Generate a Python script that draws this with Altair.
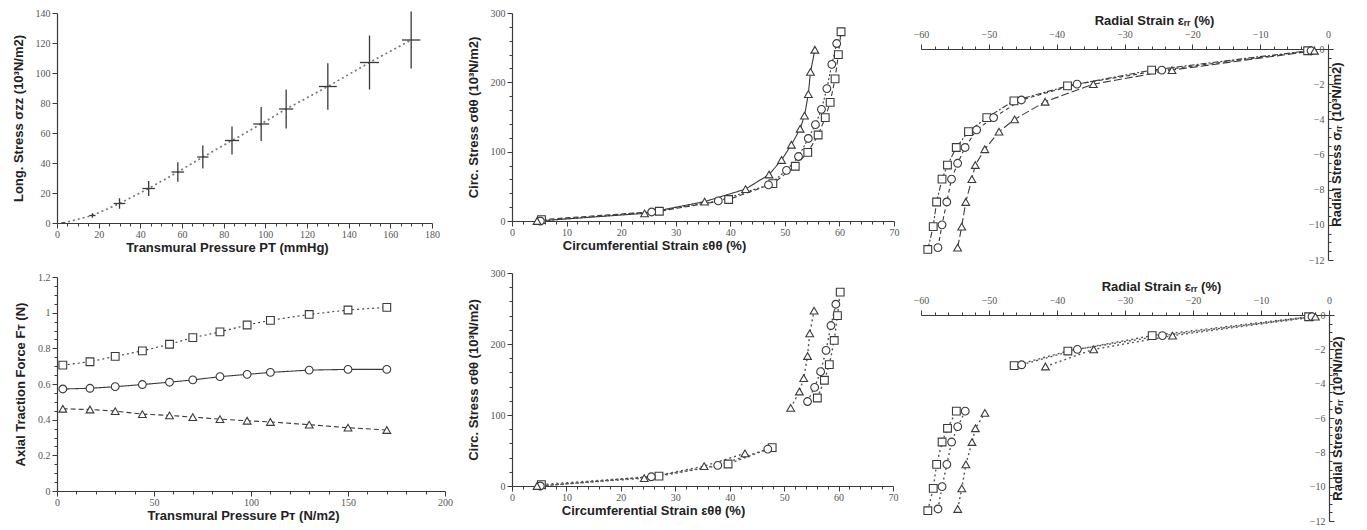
import altair as alt
import pandas as pd

# ---------------- data ----------------
series_names = ["square", "circle", "triangle"]

# Panel 1 / 4 : transmural pressure
pressure = [3, 17, 30, 44, 58, 70, 84, 98, 110, 130, 150, 170]
pressure_err = [1.0, 1.5, 2.8, 3.0, 3.0, 2.7, 3.4, 3.8, 3.4, 4.3, 4.6, 4.4]
long_stress = [0, 5, 13, 23, 34, 44, 55, 66, 76, 91, 107, 122]
long_stress_err = [0.5, 1.5, 3.5, 5.0, 6.5, 7.7, 9.4, 11.4, 13.0, 15.5, 18.0, 19.0]

force_square = [0.706, 0.725, 0.755, 0.786, 0.823, 0.860, 0.892, 0.931, 0.957, 0.990, 1.015, 1.030]
force_circle = [0.572, 0.576, 0.585, 0.597, 0.610, 0.623, 0.641, 0.654, 0.665, 0.678, 0.682, 0.682]
force_triangle = [0.461, 0.457, 0.448, 0.431, 0.424, 0.414, 0.403, 0.394, 0.387, 0.372, 0.355, 0.342]

# Panel 2 / 5 : circumferential strain (%) and stress (10^3 N/m2)
circ_strain_square = [5.4, 27.0, 39.7, 47.8, 51.9, 54.2, 56.1, 57.4, 58.3, 59.2, 59.8, 60.3]
circ_stress_square = [2, 14, 31, 54, 79, 99, 124, 149, 171, 205, 240, 273]
circ_strain_circle = [5.2, 25.6, 37.8, 47.0, 50.3, 52.5, 54.3, 55.6, 56.7, 57.7, 58.6, 59.5]
circ_stress_circle = [0, 13, 29, 52, 73, 93, 119, 139, 161, 191, 226, 256]
circ_strain_triangle = [4.6, 24.3, 35.3, 42.8, 47.1, 49.4, 51.2, 52.8, 53.6, 54.3, 54.7, 55.5]
circ_stress_triangle = [0, 11, 28, 46, 67, 88, 110, 133, 152, 183, 215, 247]

# Panel 3 / 6 : radial strain (%) and stress (10^3 N/m2)
rad_strain_square = [-3.0, -26.0, -38.4, -46.3, -50.3, -53.0, -54.8, -56.1, -56.9, -57.7, -58.2, -59.0]
rad_stress_square = [-0.1, -1.2, -2.1, -2.95, -3.9, -4.7, -5.6, -6.6, -7.4, -8.7, -10.1, -11.4]
rad_strain_circle = [-2.5, -24.5, -37.0, -45.2, -49.3, -51.8, -53.5, -54.6, -55.5, -56.2, -56.9, -57.5]
rad_stress_circle = [-0.1, -1.2, -2.0, -2.9, -3.9, -4.6, -5.6, -6.5, -7.4, -8.7, -10.0, -11.3]
rad_strain_triangle = [-2.0, -23.0, -34.6, -41.7, -46.2, -48.5, -50.6, -52.0, -52.5, -53.4, -54.0, -54.6]
rad_stress_triangle = [-0.1, -1.2, -2.0, -3.0, -4.0, -4.7, -5.7, -6.6, -7.4, -8.7, -10.1, -11.3]

# subsets shown in the bottom panels (low-load points and high-load points)
low_idx = [0, 1, 2, 3]
high_idx = [6, 7, 8, 9, 10, 11]

# ---------------- tables ----------------
def series_table(xs, ys, idx=None, tag=""):
    rows = []
    for name, xv, yv in zip(series_names, xs, ys):
        ids = idx if idx is not None else range(len(xv))
        for i in ids:
            rows.append({"series": name, "seg": name + tag, "x": xv[i], "y": yv[i]})
    return pd.DataFrame(rows)

df1 = pd.DataFrame({
    "x": pressure, "y": long_stress,
    "xlo": [p - e for p, e in zip(pressure, pressure_err)],
    "xhi": [p + e for p, e in zip(pressure, pressure_err)],
    "ylo": [s - e for s, e in zip(long_stress, long_stress_err)],
    "yhi": [s + e for s, e in zip(long_stress, long_stress_err)],
})
circ_x = [circ_strain_square, circ_strain_circle, circ_strain_triangle]
circ_y = [circ_stress_square, circ_stress_circle, circ_stress_triangle]
rad_x = [rad_strain_square, rad_strain_circle, rad_strain_triangle]
rad_y = [rad_stress_square, rad_stress_circle, rad_stress_triangle]

df2 = series_table(circ_x, circ_y)
df3 = series_table(rad_x, rad_y)
df4 = series_table([pressure, pressure, pressure], [force_square, force_circle, force_triangle])
df5 = pd.concat([series_table(circ_x, circ_y, low_idx, "_lo"), series_table(circ_x, circ_y, high_idx, "_hi")])
df6 = pd.concat([series_table(rad_x, rad_y, low_idx, "_lo"), series_table(rad_x, rad_y, high_idx, "_hi")])

# ---------------- styling helpers ----------------
INK = "#3a3a3a"
TITLE_FONT = "Liberation Sans"
LABEL_FONT = "Liberation Serif"


def mk_axis(title, major, minor, lo, hi, orient, **kw):
    n = int(round((hi - lo) / minor))
    vals = [round(lo + i * minor, 6) for i in range(n + 1)]
    test = f"abs(datum.value/{major} - round(datum.value/{major})) < 1e-6"
    opts = dict(
        title=title, orient=orient, values=vals, grid=False,
        labelExpr=f"{test} ? format(datum.value, '~g') : ''",
        tickSize={"condition": {"test": test, "value": 5}, "value": 3},
        labelOverlap=False, labelFlush=False, labelBound=False,
        domainColor=INK, tickColor=INK, domainWidth=1.2, tickWidth=1,
        labelColor="#555", labelFont=LABEL_FONT, labelFontSize=10,
        titleFont=TITLE_FONT, titleFontSize=13, titleFontWeight="bold", titleColor="#222",
    )
    if orient == "left":
        opts.update(labelPadding=2, titlePadding=10)
    elif orient == "bottom":
        opts.update(labelPadding=1, titlePadding=2)
    elif orient == "top":
        opts.update(labelPadding=5, titlePadding=2)
    opts.update(kw)
    return alt.Axis(**opts)


shape_scale = alt.Scale(domain=series_names, range=["square", "circle", "triangle-up"])


def scatter_layers(df, X, Y, dashes, detail="series", line_color=INK, line_width=1.1):
    """One line layer per series (fixed dash pattern), then the hollow markers."""
    base = alt.Chart(df)
    layers = []
    for name, dash in zip(series_names, dashes):
        layers.append(
            base.transform_filter(alt.datum.series == name)
            .mark_line(color=line_color, strokeWidth=line_width, strokeDash=dash)
            .encode(x=X, y=Y, detail=alt.Detail(f"{detail}:N"), order=alt.Order("y:Q"))
        )
    layers.append(
        base.mark_point(filled=True, fill="white", stroke=INK, strokeWidth=1.1, size=60, opacity=1).encode(
            x=X, y=Y, shape=alt.Shape("series:N", scale=shape_scale, legend=None),
        )
    )
    return layers


def spacer(w, h):
    return alt.Chart(pd.DataFrame({"v": [0]})).mark_point(opacity=0, size=1).properties(width=w, height=h)


# ---------------- panel 1 ----------------
ax1x = mk_axis("Transmural Pressure PT (mmHg)", 20, 5, 0, 180, "bottom", titleX=170)
ax1y = mk_axis("Long. Stress σzz (10³N/m2)", 20, 20, 0, 140, "left")
sx1 = alt.Scale(domain=[0, 180], nice=False, zero=False)
sy1 = alt.Scale(domain=[0, 140], nice=False, zero=False)
X1 = alt.X("x:Q", scale=sx1, axis=ax1x)
Y1 = alt.Y("y:Q", scale=sy1, axis=ax1y)
b1 = alt.Chart(df1)
p1 = alt.layer(
    b1.mark_line(color="#777", strokeDash=[2, 3], strokeWidth=1.7).encode(x=X1, y=Y1),
    b1.mark_rule(color=INK, strokeWidth=1.3).encode(x=X1, y=alt.Y("ylo:Q", scale=sy1, axis=ax1y), y2="yhi:Q"),
    b1.mark_rule(color=INK, strokeWidth=1.3).encode(y=Y1, x=alt.X("xlo:Q", scale=sx1, axis=ax1x), x2="xhi:Q"),
).properties(width=375, height=210)


# ---------------- panel 2 ----------------
def circ_axes(tx):
    return (mk_axis("Circumferential Strain εθθ (%)", 10, 2, 0, 70, "bottom", titleX=tx),
            mk_axis("Circ. Stress σθθ (10³N/m2)", 100, 20, 0, 300, "left"))


ax2x, ax2y = circ_axes(142)
X2 = alt.X("x:Q", scale=alt.Scale(domain=[0, 70], nice=False, zero=False), axis=ax2x)
Y2 = alt.Y("y:Q", scale=alt.Scale(domain=[0, 300], nice=False, zero=False), axis=ax2y)
p2 = alt.layer(*scatter_layers(df2, X2, Y2, [[5, 3], [2, 2], [1, 0]])).properties(width=382, height=208)


# ---------------- panel 3 ----------------
def rad_axes(tx, ty):
    return (mk_axis("Radial Strain εᵣᵣ (%)", 10, 2, -60, 0, "top", titleX=tx),
            mk_axis("Radial Stress σᵣᵣ (10³N/m2)", 2, 0.5, -12, 0, "right",
                    labelAlign="right", labelPadding=-9, titleAngle=270, titlePadding=10, titleY=ty))


ax3x, ax3y = rad_axes(233, 95)
X3 = alt.X("x:Q", scale=alt.Scale(domain=[-60, 0], nice=False, zero=False), axis=ax3x)
Y3 = alt.Y("y:Q", scale=alt.Scale(domain=[-12, 0], nice=False, zero=False), axis=ax3y)
p3 = alt.layer(*scatter_layers(df3, X3, Y3, [[6, 2, 2, 2], [4, 3], [8, 3]])).properties(width=407, height=211)

# ---------------- panel 4 ----------------
ax4x = mk_axis("Transmural Pressure Pᴛ (N/m2)", 50, 10, 0, 200, "bottom", titleX=186)
ax4y = mk_axis("Axial Traction Force Fᴛ (N)", 0.2, 0.05, 0, 1.2, "left")
X4 = alt.X("x:Q", scale=alt.Scale(domain=[0, 200], nice=False, zero=False), axis=ax4x)
Y4 = alt.Y("y:Q", scale=alt.Scale(domain=[0, 1.2], nice=False, zero=False), axis=ax4y)
p4 = alt.layer(*scatter_layers(df4, X4, Y4, [[2, 3], [1, 0], [5, 3]])).properties(width=388, height=214)

# ---------------- panel 5 ----------------
ax5x, ax5y = circ_axes(141)
X5 = alt.X("x:Q", scale=alt.Scale(domain=[0, 70], nice=False, zero=False), axis=ax5x)
Y5 = alt.Y("y:Q", scale=alt.Scale(domain=[0, 300], nice=False, zero=False), axis=ax5y)
p5 = alt.layer(*scatter_layers(df5, X5, Y5, [[2, 3], [2, 3], [2, 3]], detail="seg",
                               line_color="#555", line_width=1.4)).properties(width=381, height=213)

# ---------------- panel 6 ----------------
ax6x, ax6y = rad_axes(240, 103)
X6 = alt.X("x:Q", scale=alt.Scale(domain=[-60, 0], nice=False, zero=False), axis=ax6x)
Y6 = alt.Y("y:Q", scale=alt.Scale(domain=[-12, 0], nice=False, zero=False), axis=ax6y)
p6 = alt.layer(*scatter_layers(df6, X6, Y6, [[2, 3], [2, 3], [2, 3]], detail="seg",
                               line_color="#555", line_width=1.4)).properties(width=408, height=206)

# ---------------- layout ----------------
col1 = alt.vconcat(p1, p4, spacing=18)
col2 = alt.vconcat(p2, p5, spacing=16)
col3 = alt.vconcat(spacer(407, 1), alt.vconcat(p3, p6, spacing=15), spacing=0)

chart = alt.hconcat(col1, col2, col3, spacing=14).properties(
    padding={"left": 4, "top": 0, "right": 0, "bottom": 0}
).configure_view(stroke=None)

chart.save("out.html", embed_options={"renderer": "svg", "actions": False})
